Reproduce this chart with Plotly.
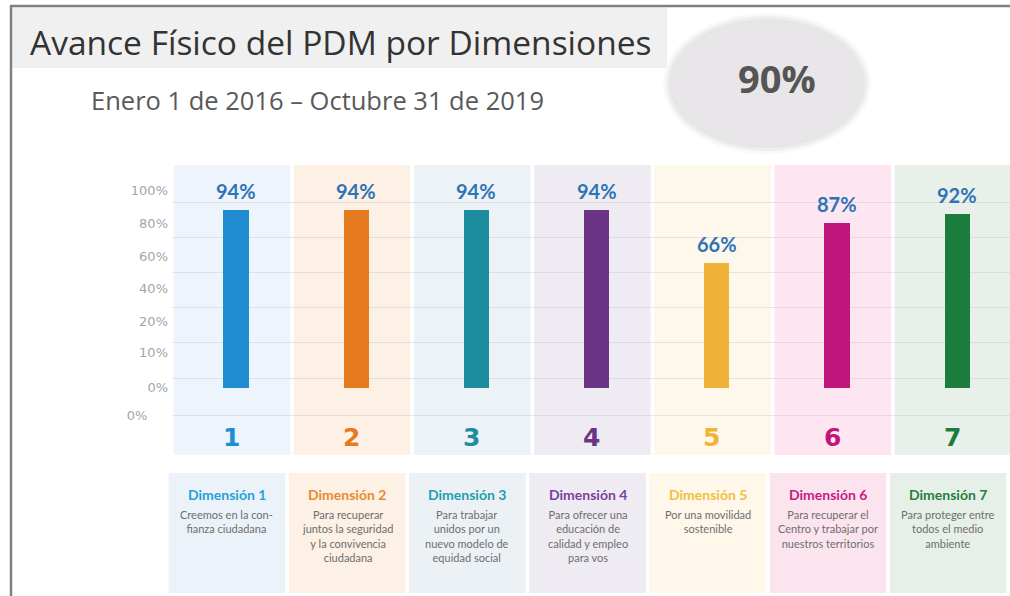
import plotly.graph_objects as go

# ---------------- data ----------------
DIMENSIONS = [1, 2, 3, 4, 5, 6, 7]
VALUES = [94, 94, 94, 94, 66, 87, 92]
NUMBER_LABELS = ["1", "2", "3", "4", "5", "6", "7"]
BOX_TITLES = ["Dimensión 1", "Dimensión 2", "Dimensión 3", "Dimensión 4",
              "Dimensión 5", "Dimensión 6", "Dimensión 7"]
BOX_TEXTS = [
    "Creemos en la con-<br>fianza ciudadana",
    "Para recuperar<br>juntos la seguridad<br>y la convivencia<br>ciudadana",
    "Para trabajar<br>unidos por un<br>nuevo modelo de<br>equidad social",
    "Para ofrecer una<br>educación de<br>calidad y empleo<br>para vos",
    "Por una movilidad<br>sostenible",
    "Para recuperar el<br>Centro y trabajar por<br>nuestros territorios",
    "Para proteger entre<br>todos el medio<br>ambiente",
]
Y_TICK_LABELS = ["100%", "80%", "60%", "40%", "20%", "10%", "0%", "0%\u00a0\u00a0\u00a0\u00a0\u00a0"]
TITLE = "Avance Físico del PDM por Dimensiones"
SUBTITLE = "Enero 1 de 2016 – Octubre 31 de 2019"
TOTAL = "90%"

# ---------------- style ----------------
BAR_COLORS = ["#1f8dd0", "#e67a1e", "#1b8d9e", "#6b3487", "#f0b237", "#c0157a", "#1b7d3d"]
BAND_COLORS = ["#eef4fb", "#fdf1e6", "#edf2f6", "#efebf3", "#fef8ec", "#fde6f1", "#e9f0ea"]
BOX_COLORS = ["#ebf2f9", "#fdf0e4", "#ecf1f5", "#eeebf2", "#fef7ea", "#fce4ef", "#e7efe9"]
TITLE_COLORS = ["#27a0dc", "#ea8a2c", "#1b9fb0", "#7b3f9e", "#f2c03c", "#c71b82", "#1f8040"]

W_FIG, H_FIG = 1010, 596
L, R, T, B = 172, 1010, 165, 455
PW, PH = R - L, B - T
X0_PIX, X_STEP = 236, 120.2      # pixel of dimension 1, pixels per dimension
Z_PIX, Y_SCALE = 388, 1.894      # pixel of y=0, pixels per unit

XR = [1 - (X0_PIX - L) / X_STEP, 1 + (R - X0_PIX) / X_STEP]
YR = [(Z_PIX - B) / Y_SCALE, (Z_PIX - T) / Y_SCALE]


def px(x):
    return (x - L) / PW


def py(y):
    return (B - y) / PH


def xpix(xd):
    return L + (xd - XR[0]) / (XR[1] - XR[0]) * PW


def ydata(p):
    return (Z_PIX - p) / Y_SCALE


tick_pix = [190, 223, 256, 288, 321, 352, 387, 415]
grid_pix = [202, 237, 272, 307, 342, 378, 415]

fig = go.Figure()
fig.add_trace(go.Bar(
    x=DIMENSIONS, y=VALUES, marker=dict(color=BAR_COLORS, line=dict(width=0)),
    width=0.21, hoverinfo="skip", showlegend=False,
))

shapes = []
# border
shapes.append(dict(type="line", xref="paper", yref="paper", x0=px(10), x1=px(1010),
                   y0=py(6), y1=py(6), line=dict(color="#808080", width=2.5)))
shapes.append(dict(type="line", xref="paper", yref="paper", x0=px(11), x1=px(11),
                   y0=py(5), y1=py(596), line=dict(color="#808080", width=2.5)))
# title box
shapes.append(dict(type="rect", xref="paper", yref="paper", x0=px(12.5), x1=px(667),
                   y0=py(68), y1=py(7.5), fillcolor="#f0f0f0", line=dict(width=0), layer="below"))
# ellipse with soft edge
for grow, col in [(9, "rgba(225,223,225,0.2)"), (6, "rgba(225,223,225,0.4)"),
                  (3, "rgba(228,226,228,0.7)"), (0, "#e8e6e8")]:
    shapes.append(dict(type="circle", xref="paper", yref="paper",
                       x0=px(672 - grow), x1=px(862 + grow), y0=py(145 + grow), y1=py(22 - grow),
                       fillcolor=col, line=dict(width=0), layer="below"))

# background bands
for i, d in enumerate(DIMENSIONS):
    x1 = d + 0.45 if i < len(DIMENSIONS) - 1 else XR[1] + 0.2
    shapes.append(dict(type="rect", xref="x", yref="y", x0=d - 0.52, x1=x1,
                       y0=YR[0], y1=YR[1], fillcolor=BAND_COLORS[i], line=dict(width=0), layer="below"))

# description boxes
for i, d in enumerate(DIMENSIONS):
    bx0 = xpix(d - 0.56)
    bx1 = min(xpix(d + 0.41), 1010)
    shapes.append(dict(type="rect", xref="paper", yref="paper", x0=px(bx0), x1=px(bx1),
                       y0=py(593), y1=py(473), fillcolor=BOX_COLORS[i], line=dict(width=0), layer="below"))

annotations = []
annotations.append(dict(text=TITLE, xref="paper", yref="paper", x=px(28), y=py(42),
                        xanchor="left", yanchor="middle", showarrow=False,
                        font=dict(family="Open Sans", size=33.5, color="#333333")))
annotations.append(dict(text=SUBTITLE, xref="paper", yref="paper", x=px(89), y=py(100),
                        xanchor="left", yanchor="middle", showarrow=False,
                        font=dict(family="Open Sans", size=25.5, color="#595959")))
annotations.append(dict(text="<b>" + TOTAL + "</b>", xref="paper", yref="paper", x=px(777), y=py(78),
                        xanchor="center", yanchor="middle", showarrow=False,
                        font=dict(family="Open Sans", size=38, color="#555555")))

for i, (d, v) in enumerate(zip(DIMENSIONS, VALUES)):
    annotations.append(dict(text="<b>%d%%</b>" % v, x=d, y=v, xref="x", yref="y",
                            xanchor="center", yanchor="bottom", yshift=5, showarrow=False,
                            font=dict(family="Lato", size=20, color="#2e74b5")))
    annotations.append(dict(text="<b>" + NUMBER_LABELS[i] + "</b>", x=d - 0.04, y=py(437),
                            xref="x", yref="paper", xanchor="center", yanchor="middle", showarrow=False,
                            font=dict(family="DejaVu Sans", size=25, color=BAR_COLORS[i])))
    cx = (xpix(d - 0.56) + min(xpix(d + 0.41), 1010)) / 2
    annotations.append(dict(text="<b>" + BOX_TITLES[i] + "</b>", x=px(cx), y=py(494),
                            xref="paper", yref="paper", xanchor="center", yanchor="middle", showarrow=False,
                            font=dict(family="Lato", size=14, color=TITLE_COLORS[i])))
    annotations.append(dict(text=BOX_TEXTS[i], x=px(cx), y=py(506),
                            xref="paper", yref="paper", xanchor="center", yanchor="top", showarrow=False,
                            align="center",
                            font=dict(family="Lato", size=11, color="#6e6e6e")))

fig.update_layout(
    width=W_FIG, height=H_FIG,
    margin=dict(l=L, r=W_FIG - R, t=T, b=H_FIG - B, pad=0),
    paper_bgcolor="white", plot_bgcolor="white",
    shapes=shapes, annotations=annotations,
    bargap=0,
    xaxis=dict(range=XR, visible=False, fixedrange=True),
    yaxis=dict(range=YR, tickvals=[ydata(p) for p in tick_pix], ticktext=Y_TICK_LABELS,
               showgrid=False, zeroline=False, showline=False, ticks="",
               ticklabelstandoff=3,
               tickfont=dict(family="DejaVu Sans", size=13, color="#a5a5a5"),
               minor=dict(tickvals=[ydata(p) for p in grid_pix], showgrid=True,
                          gridcolor="rgba(200,200,200,0.45)", gridwidth=1, ticks=""),
               fixedrange=True),
)

fig.write_html("out.html", config={"displayModeBar": False},
               post_script="document.body.style.margin='0';document.body.style.overflow='hidden';")
